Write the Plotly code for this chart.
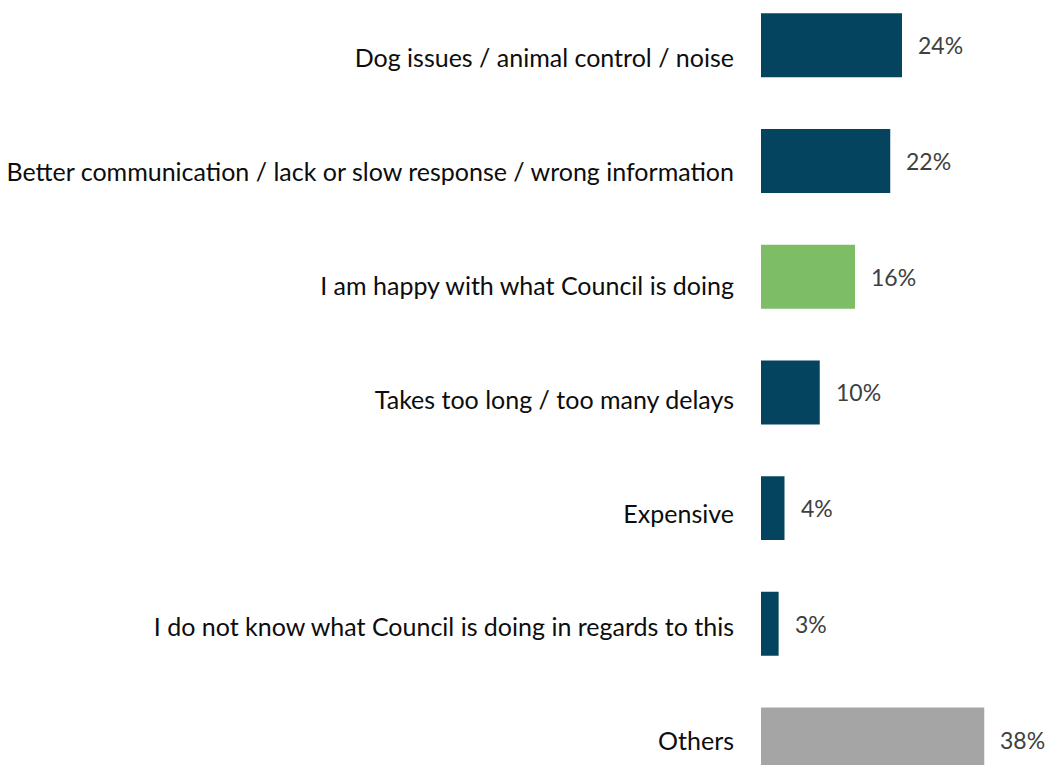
import plotly.graph_objects as go

# Survey responses, listed top to bottom
categories = [
    "Dog issues / animal control / noise",
    "Better communication / lack or slow response / wrong information",
    "I am happy with what Council is doing",
    "Takes too long / too many delays",
    "Expensive",
    "I do not know what Council is doing in regards to this",
    "Others",
]
values = [24, 22, 16, 10, 4, 3, 38]
value_labels = ["24%", "22%", "16%", "10%", "4%", "3%", "38%"]

NAVY = "#05445E"
GREEN = "#7DBD66"
GREY = "#A5A5A5"
bar_colors = [NAVY, NAVY, GREEN, NAVY, NAVY, NAVY, GREY]

positions = list(range(len(categories)))

fig = go.Figure()
fig.add_trace(
    go.Bar(
        x=values,
        y=positions,
        orientation="h",
        width=0.553,
        marker=dict(color=bar_colors, line=dict(width=0)),
        hoverinfo="skip",
    )
)
# Carrier trace for the category label axis (draws nothing)
fig.add_trace(
    go.Scatter(
        x=[0] * len(positions), y=positions, yaxis="y2",
        mode="markers", marker=dict(opacity=0, size=1),
        hoverinfo="skip", showlegend=False,
    )
)

# Percent labels to the right of each bar
for pos, val, lab in zip(positions, values, value_labels):
    fig.add_annotation(
        x=val, y=pos, text=lab, showarrow=False,
        xanchor="left", yanchor="middle", xshift=14,
        font=dict(family="Lato", size=23, color="#404040"),
    )

fig.update_layout(
    width=1047,
    height=765,
    autosize=False,
    margin=dict(l=761, r=51, t=0, b=0),
    paper_bgcolor="white",
    plot_bgcolor="white",
    showlegend=False,
    xaxis=dict(
        range=[0, 40], visible=False, showgrid=False, zeroline=False,
    ),
    yaxis=dict(
        range=[6.220, -0.3915],
        showticklabels=False,
        ticks="",
        showgrid=False,
        zeroline=False,
        showline=False,
    ),
    # Category labels sit on their own, slightly tighter, axis
    yaxis2=dict(
        overlaying="y",
        side="left",
        anchor="x",
        range=[6.207, -0.515],
        tickmode="array",
        tickvals=positions,
        ticktext=categories,
        ticks="",
        showgrid=False,
        zeroline=False,
        showline=False,
        ticklabelstandoff=26,
        tickfont=dict(family="Lato", size=25, color="#0D0D0D"),
    ),
)

fig.write_html("out.html")
